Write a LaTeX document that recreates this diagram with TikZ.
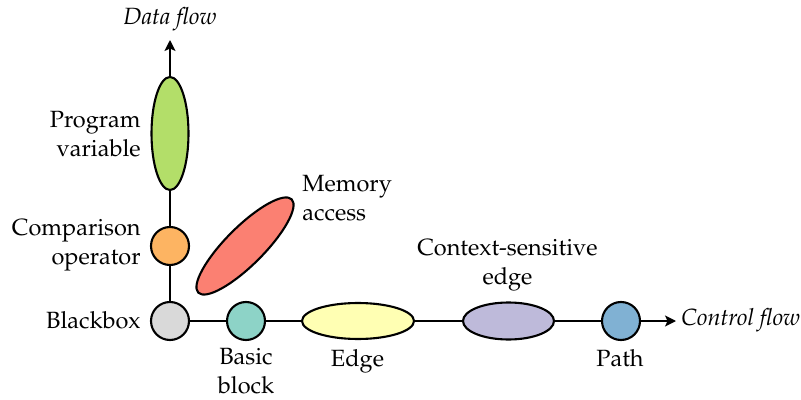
\documentclass[tikz,border=0pt]{standalone}
\usepackage[T1]{fontenc}
\usepackage{mathpazo}
\usetikzlibrary{shapes.geometric,arrows.meta}
\definecolor{cgreen}{RGB}{179,222,105}
\definecolor{corange}{RGB}{253,180,98}
\definecolor{cred}{RGB}{251,128,114}
\definecolor{cgray}{RGB}{217,217,217}
\definecolor{cteal}{RGB}{141,211,199}
\definecolor{cyellow}{RGB}{255,255,179}
\definecolor{cpurple}{RGB}{190,186,218}
\definecolor{cblue}{RGB}{128,177,211}
\tikzset{
  blob/.style={draw=black, line width=1.05pt, inner sep=0pt},
  dot/.style={blob, circle, minimum size=19pt},
  oval/.style={blob, ellipse},
  lbl/.style={inner sep=0pt, font=\fontsize{11.75}{14.5}\selectfont},
  conn/.style={line width=1.05pt},
  flow/.style={conn, -{Stealth[length=5.5pt,width=5.5pt,inset=1.3pt]}}
}
\begin{document}
\begin{tikzpicture}[x=0.5pt,y=-0.5pt]
\useasboundingbox (0,0) rectangle (801,400);
% nodes
\node[dot, fill=cgray] (bb) at (170,321) {};
\node[dot, fill=cteal] (basic) at (246,321) {};
\node[oval, fill=cyellow, minimum width=56pt, minimum height=18pt] (edge) at (358,321) {};
\node[oval, fill=cpurple, minimum width=45.5pt, minimum height=18.5pt] (cse) at (508.5,321) {};
\node[dot, fill=cblue] (path) at (621,321) {};
\node[dot, fill=corange] (cmp) at (170,246) {};
\node[oval, fill=cgreen, minimum width=18.5pt, minimum height=56.5pt] (pv) at (170,133.5) {};
\node[oval, fill=cred, minimum width=66pt, minimum height=19pt, rotate=45] (mem) at (245,246) {};
\coordinate (cf) at (676,321);
\coordinate (df) at (170,40);
% connectors
\draw[conn] (bb) -- (basic);
\draw[conn] (basic) -- (edge);
\draw[conn] (edge) -- (cse);
\draw[conn] (cse) -- (path);
\draw[flow] (path) -- (cf);
\draw[conn] (bb) -- (cmp);
\draw[conn] (cmp) -- (pv);
\draw[flow] (pv) -- (df);
% labels (base anchor of a multi-line node = last line)
\node[lbl, anchor=base] (tdf) at (170,25) {\itshape Data flow};
\node[lbl, anchor=base west] (tcf) at (681,325) {\itshape Control flow};
\node[lbl, anchor=base east, align=right] (tpv) at (141,157) {Program\\variable};
\node[lbl, anchor=base east, align=right] (tcmp) at (141,264) {Comparison\\operator};
\node[lbl, anchor=base east] (tbb) at (141,328) {Blackbox};
\node[lbl, anchor=base, align=center] (tbasic) at (246,393) {Basic\\block};
\node[lbl, anchor=base] (tedge) at (357.5,366) {Edge};
\node[lbl, anchor=base, align=center] (tcse) at (507.5,285) {Context-sensitive\\edge};
\node[lbl, anchor=base] (tpath) at (620,366) {Path};
\node[lbl, anchor=base west, align=left] (tmem) at (302,221) {Memory\\access};
\end{tikzpicture}
\end{document}
